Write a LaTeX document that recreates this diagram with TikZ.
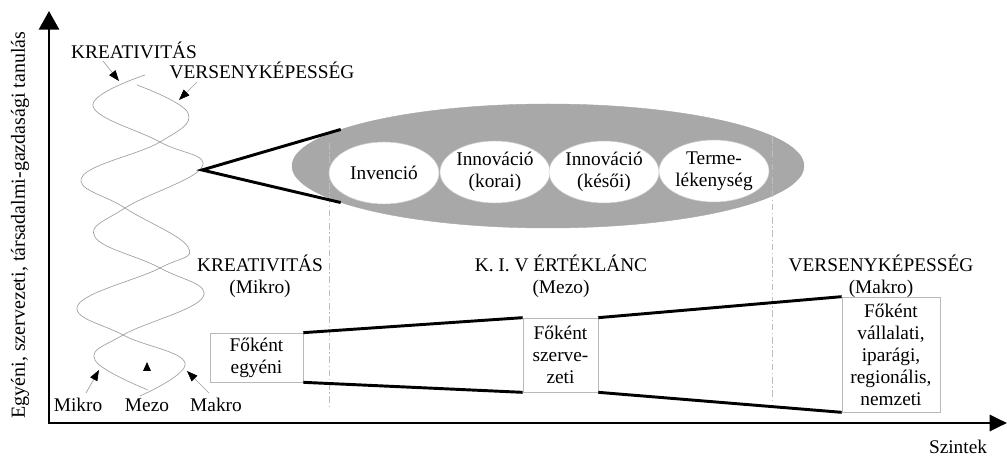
\documentclass[tikz,border=0pt]{standalone}
\usepackage{fontspec}
\setmainfont{Liberation Serif}
\usetikzlibrary{arrows.meta,shapes.geometric}
\definecolor{ellgray}{RGB}{168,168,168}
\tikzset{
  lbl/.style={font=\fontsize{14.5}{16.5}\selectfont, inner sep=0pt, align=center},
  axisline/.style={line width=2.2pt, line join=miter},
  helix/.style={draw=gray!75, line width=0.5pt},
  ptr/.style={draw=gray!75, line width=0.5pt, -{Triangle[length=8pt,width=6pt,color=black]}},
  heavy/.style={line width=2.2pt, line cap=butt},
  guide/.style={draw=gray!50, line width=0.5pt, dash pattern=on 5pt off 2pt on 1pt off 2pt},
  inell/.style={ellipse, fill=white, draw=gray!40, line width=0.4pt, inner sep=0pt,
    minimum width=82.5pt, minimum height=46.5pt, align=center,
    font=\fontsize{14.5}{16.5}\selectfont},
  box/.style={rectangle, draw=gray!55, line width=0.5pt, fill=white, inner sep=0pt,
    align=center, font=\fontsize{14.5}{16.5}\selectfont}
}
\begin{document}
\begin{tikzpicture}[x=0.75pt,y=-0.75pt]
\useasboundingbox (0,0) rectangle (1007,459);

% axes
\coordinate (Ytop) at (49,11);
\coordinate (O) at (49,423);
\coordinate (Xend) at (1007,423);
\draw[axisline, {Triangle[length=14pt,width=15pt]}-{Triangle[length=13pt,width=12pt]}] (Ytop) -- (O) -- (Xend);
\node[lbl, rotate=90, font=\fontsize{15}{17}\selectfont] (ylab) at (20,225) {Egyéni, szervezeti, társadalmi-gazdasági tanulás};
\node[lbl] (szintek) at (958,447) {Szintek};

% helix
\draw[helix] plot[smooth, tension=0.7] coordinates {(145,75) (93,106) (160,142) (202,167) (125,208) (95,237) (160,268) (203,297) (123,335) (95,360) (148,390)};
\draw[helix] plot[smooth, tension=0.7] coordinates {(137,85) (188,113) (160,142) (82,177) (125,208) (188,247) (160,268) (78,305) (123,335) (185,363) (140,396)};

% helix labels
\node[lbl] (topK) at (134,50) {KREATIVITÁS};
\node[lbl] (topV) at (262,70) {VERSENYKÉPESSÉG};
\coordinate (kS) at (103,61); \coordinate (kT) at (119,81);
\coordinate (vS) at (197,82); \coordinate (vT) at (179,100);
\draw[ptr] (kS) -- (kT);
\draw[ptr] (vS) -- (vT);

\node[lbl] (mikro) at (78,405) {Mikro};
\node[lbl] (mezo) at (147,405) {Mezo};
\node[lbl] (makro) at (216,405) {Makro};
\coordinate (miS) at (86,393); \coordinate (miT) at (99,370);
\coordinate (maS) at (209,393); \coordinate (maT) at (187,371);
\draw[ptr] (miS) -- (miT);
\draw[ptr] (maS) -- (maT);
\fill (143,371) -- (151,371) -- (147,362) -- cycle;

% big ellipse and its chain
\node[ellipse, fill=ellgray, draw=gray!70, line width=0.3pt, inner sep=0pt,
  minimum width=384pt, minimum height=93pt] (big) at (548,166) {};

\coordinate (g1t) at (329,143); \coordinate (g1b) at (329,408);
\coordinate (g2t) at (772,137); \coordinate (g2b) at (772,400);
\draw[guide] (g1t) -- (g1b);
\draw[guide] (g2t) -- (g2b);

\node[inell] (e1) at (384,173) {Invenció};
\node[inell] (e2) at (495,172) {Innováció\\(korai)};
\node[inell] (e3) at (604,172) {Innováció\\(késői)};
\node[inell] (e4) at (714,171) {Terme-\\lékenység};

\coordinate (apex) at (202,170);
\draw[heavy] (big.170) -- (apex) -- (big.190);

% level headings
\node[lbl] (hK) at (260,276) {KREATIVITÁS\\(Mikro)};
\node[lbl] (hV) at (561,276) {K. I. V ÉRTÉKLÁNC\\(Mezo)};
\node[lbl] (hM) at (881,276) {VERSENYKÉPESSÉG\\(Makro)};

% boxes
\node[box, minimum width=69.75pt, minimum height=36.75pt] (b1) at (256.5,357.5) {Főként\\egyéni};
\node[box, minimum width=56.25pt, minimum height=55.5pt] (b2) at (560.5,355) {Főként\\szerve-\\zeti};
\node[box, minimum width=73.5pt, minimum height=86.25pt] (b3) at (891,354.5) {Főként\\vállalati,\\iparági,\\regionális,\\nemzeti};

\draw[heavy] (b1.north east) -- (b2.north west);
\draw[heavy] (b1.south east) -- (b2.south west);
\draw[heavy] (b2.north east) -- (b3.north west);
\draw[heavy] (b2.south east) -- (b3.south west);
\end{tikzpicture}
\end{document}
